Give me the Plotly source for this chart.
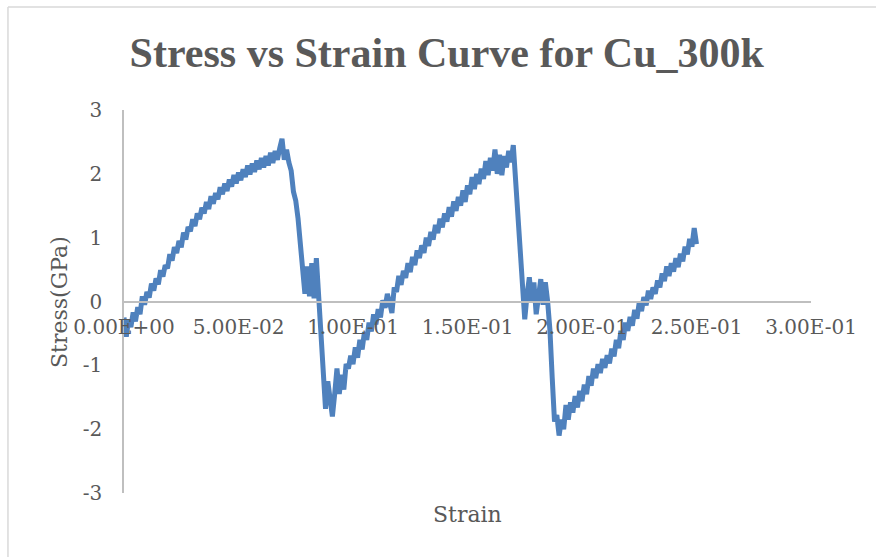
import plotly.graph_objects as go

# Strain values (sampling of the simulation)
strain = [
    0.000, 0.001, 0.002, 0.003, 0.004, 0.005, 0.006, 0.007, 0.008, 0.009,
    0.010, 0.011, 0.012, 0.013, 0.014, 0.015, 0.016, 0.017, 0.018, 0.019,
    0.020, 0.021, 0.022, 0.023, 0.024, 0.025, 0.026, 0.027, 0.028, 0.029,
    0.030, 0.031, 0.032, 0.033, 0.034, 0.035, 0.036, 0.037, 0.038, 0.039,
    0.040, 0.041, 0.042, 0.043, 0.044, 0.045, 0.046, 0.047, 0.048, 0.049,
    0.050, 0.051, 0.052, 0.053, 0.054, 0.055, 0.056, 0.057, 0.058, 0.059,
    0.060, 0.061, 0.062, 0.063, 0.064, 0.065, 0.066, 0.067, 0.068, 0.069,
    0.070, 0.071, 0.072, 0.073, 0.074, 0.075, 0.076, 0.077, 0.078, 0.079,
    0.080, 0.081, 0.082, 0.083, 0.084, 0.085, 0.086, 0.087, 0.088, 0.089,
    0.090, 0.091, 0.092, 0.093, 0.094, 0.095, 0.096, 0.097, 0.098, 0.099,
    0.100, 0.101, 0.102, 0.103, 0.104, 0.105, 0.106, 0.107, 0.108, 0.109,
    0.110, 0.111, 0.112, 0.113, 0.114, 0.115, 0.116, 0.117, 0.118, 0.119,
    0.120, 0.121, 0.122, 0.123, 0.124, 0.125, 0.126, 0.127, 0.128, 0.129,
    0.130, 0.131, 0.132, 0.133, 0.134, 0.135, 0.136, 0.137, 0.138, 0.139,
    0.140, 0.141, 0.142, 0.143, 0.144, 0.145, 0.146, 0.147, 0.148, 0.149,
    0.150, 0.151, 0.152, 0.153, 0.154, 0.155, 0.156, 0.157, 0.158, 0.159,
    0.160, 0.161, 0.162, 0.163, 0.164, 0.165, 0.166, 0.167, 0.168, 0.169,
    0.170, 0.171, 0.172, 0.173, 0.174, 0.175, 0.176, 0.177, 0.178, 0.179,
    0.180, 0.181, 0.182, 0.183, 0.184, 0.185, 0.186, 0.187, 0.188, 0.189,
    0.190, 0.191, 0.192, 0.193, 0.194, 0.195, 0.196, 0.197, 0.198, 0.199,
    0.200, 0.201, 0.202, 0.203, 0.204, 0.205, 0.206, 0.207, 0.208, 0.209,
    0.210, 0.211, 0.212, 0.213, 0.214, 0.215, 0.216, 0.217, 0.218, 0.219,
    0.220, 0.221, 0.222, 0.223, 0.224, 0.225, 0.226, 0.227, 0.228, 0.229,
    0.230, 0.231, 0.232, 0.233, 0.234, 0.235, 0.236, 0.237, 0.238, 0.239,
    0.240, 0.241, 0.242, 0.243, 0.244, 0.245, 0.246, 0.247, 0.248, 0.249,
    0.250,
]

# Stress (GPa)
stress = [
    -0.25, -0.55, -0.28, -0.40, -0.17, -0.31, -0.09, -0.20, 0.08, -0.05,
    0.15, 0.06, 0.28, 0.17, 0.36, 0.27, 0.49, 0.39, 0.57, 0.52,
    0.74, 0.64, 0.85, 0.76, 0.95, 0.85, 1.08, 0.97, 1.17, 1.10,
    1.29, 1.18, 1.38, 1.29, 1.47, 1.38, 1.56, 1.45, 1.65, 1.53,
    1.70, 1.60, 1.79, 1.68, 1.85, 1.73, 1.91, 1.80, 1.98, 1.85,
    2.02, 1.90, 2.07, 1.95, 2.13, 1.99, 2.16, 2.03, 2.21, 2.07,
    2.25, 2.10, 2.28, 2.13, 2.33, 2.17, 2.36, 2.22, 2.40, 2.55,
    2.22, 2.38, 2.18, 2.05, 1.72, 1.58, 1.30, 0.95, 0.55, 0.12,
    0.55, 0.08, 0.60, 0.05, 0.68, 0.10, -0.30, -1.00, -1.68, -1.25,
    -1.55, -1.80, -1.45, -1.05, -1.45, -1.15, -1.38, -0.98, -1.05, -0.85,
    -0.98, -0.72, -0.88, -0.60, -0.75, -0.48, -0.60, -0.33, -0.47, -0.20,
    -0.36, -0.12, -0.25, 0.02, -0.10, 0.12, -0.02, -0.18, 0.22, 0.15,
    0.40, 0.26, 0.48, 0.37, 0.60, 0.46, 0.70, 0.57, 0.80, 0.68,
    0.88, 0.76, 1.00, 0.87, 1.09, 0.97, 1.20, 1.07, 1.30, 1.16,
    1.38, 1.25, 1.48, 1.33, 1.57, 1.42, 1.64, 1.50, 1.74, 1.56,
    1.82, 1.68, 1.95, 1.76, 2.00, 1.84, 2.08, 1.92, 2.20, 1.98,
    2.25, 2.05, 2.38, 2.00, 2.30, 1.98, 2.28, 2.10, 2.36, 2.18,
    2.45, 1.90, 1.25, 0.60, 0.05, -0.28, 0.10, 0.38, 0.00, 0.30,
    -0.20, 0.10, 0.35, -0.05, 0.30, 0.00, -0.45, -1.20, -1.88, -1.78,
    -2.10, -1.85, -2.00, -1.62, -1.85, -1.58, -1.74, -1.48, -1.66, -1.40,
    -1.56, -1.30, -1.45, -1.17, -1.32, -1.05, -1.20, -0.98, -1.12, -0.90,
    -1.04, -0.84, -0.97, -0.74, -0.86, -0.60, -0.73, -0.46, -0.60, -0.33,
    -0.46, -0.24, -0.38, -0.13, -0.27, -0.01, -0.15, 0.07, -0.06, 0.17,
    0.04, 0.22, 0.12, 0.33, 0.22, 0.44, 0.32, 0.55, 0.40, 0.60,
    0.47, 0.68, 0.54, 0.75, 0.63, 0.86, 0.74, 0.98, 0.86, 1.15,
    0.90,
]

x_ticks = [0.0, 0.05, 0.10, 0.15, 0.20, 0.25, 0.30]
x_tick_labels = ["0.00E+00", "5.00E-02", "1.00E-01", "1.50E-01", "2.00E-01", "2.50E-01", "3.00E-01"]
y_ticks = [-3, -2, -1, 0, 1, 2, 3]
y_tick_labels = ["-3", "-2", "-1", "0", "1", "2", "3"]

TEXT = "#595959"
AXIS = "#BFBFBF"
SERIF = "DejaVu Serif"

fig = go.Figure()
fig.add_trace(go.Scatter(
    x=strain, y=stress, mode="lines",
    line=dict(color="#4F81BD", width=5),
    showlegend=False, hoverinfo="skip",
))

fig.update_layout(
    width=876, height=557,
    margin=dict(l=124, r=65, t=110, b=64),
    paper_bgcolor="white", plot_bgcolor="white",
    title=dict(
        text="<b>Stress vs Strain Curve for Cu_300k</b>",
        font=dict(family="Liberation Serif", size=42, color=TEXT),
        x=0.51, xanchor="center", xref="container",
        y=1 - 52 / 557, yanchor="middle", yref="container",
    ),
    xaxis=dict(
        range=[0, 0.3], tickvals=x_ticks, ticktext=x_tick_labels,
        showgrid=False, zeroline=False,
        showline=True, linecolor=AXIS, linewidth=1.5,
        anchor="free", position=0.5,
        ticks="", ticklabelstandoff=8,
        tickfont=dict(family=SERIF, size=20, color=TEXT),
    ),
    yaxis=dict(
        range=[-3, 3], tickvals=y_ticks, ticktext=y_tick_labels,
        showgrid=False, zeroline=False,
        showline=True, linecolor=AXIS, linewidth=1.5,
        ticks="", ticklabelstandoff=16,
        tickfont=dict(family=SERIF, size=20, color=TEXT),
    ),
    annotations=[
        dict(text="Strain", xref="paper", yref="paper", x=0.4993, y=-0.0574,
             xanchor="center", yanchor="middle", showarrow=False,
             font=dict(family=SERIF, size=22, color=TEXT)),
        dict(text="Stress(GPa)", xref="paper", yref="paper", x=-0.0932, y=0.4987,
             xanchor="center", yanchor="middle", showarrow=False, textangle=-90,
             font=dict(family=SERIF, size=22, color=TEXT)),
    ],
    shapes=[
        dict(type="line", xref="paper", yref="paper", x0=-0.1689, x1=1.12,
             y0=1.2689, y1=1.2689, line=dict(color="#D9D9D9", width=1.5)),
        dict(type="line", xref="paper", yref="paper", x0=-0.1689, x1=-0.1689,
             y0=1.2689, y1=-0.2, line=dict(color="#D9D9D9", width=1.5)),
    ],
)

fig.write_html("out.html")
